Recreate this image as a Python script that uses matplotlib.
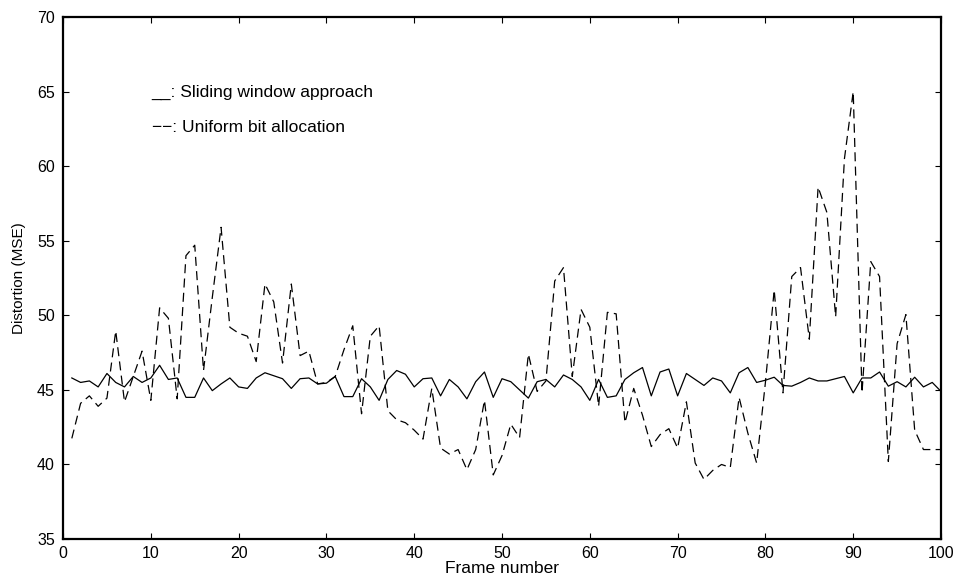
import numpy as np
import matplotlib
matplotlib.use("Agg")
from matplotlib import pyplot as plt

frames = np.arange(1, 101)

sliding = [
    45.8, 45.5, 45.6, 45.2, 46.1, 45.5, 45.2, 45.9, 45.5, 45.8,
    46.65, 45.7, 45.8, 44.5, 44.5, 45.8, 44.95, 45.4, 45.8, 45.2,
    45.1, 45.8, 46.15, 45.95, 45.75, 45.1, 45.75, 45.8, 45.4, 45.45,
    45.9, 44.55, 44.55, 45.75, 45.2, 44.3, 45.7, 46.3, 46.05, 45.2,
    45.75, 45.8, 44.6, 45.7, 45.2, 44.4, 45.55, 46.2, 44.5, 45.75,
    45.55, 45.0, 44.45, 45.55, 45.7, 45.2, 46.0, 45.7, 45.2, 44.3,
    45.7, 44.5, 44.6, 45.7, 46.15, 46.5, 44.6, 46.2, 46.4, 44.6,
    46.1, 45.7, 45.3, 45.8, 45.6, 44.8, 46.15, 46.5, 45.5, 45.65,
    45.85, 45.3, 45.25, 45.5, 45.8, 45.6, 45.6, 45.75, 45.9, 44.8,
    45.8, 45.8, 46.2, 45.25, 45.55, 45.2, 45.85, 45.2, 45.5, 44.9,
]

uniform = [
    41.75, 44.1, 44.6, 43.9, 44.45, 48.95, 44.2, 45.9, 47.6, 44.3,
    50.5, 49.8, 44.4, 54.0, 54.7, 46.3, 51.2, 55.9, 49.2, 48.8,
    48.6, 46.9, 52.1, 50.9, 46.8, 52.1, 47.3, 47.6, 45.4, 45.5,
    45.9, 47.7, 49.3, 43.4, 48.6, 49.3, 43.6, 43.0, 42.8, 42.3,
    41.7, 45.1, 41.1, 40.7, 41.0, 39.65, 41.0, 44.3, 39.3, 40.6,
    42.7, 41.8, 47.4, 44.9, 45.6, 52.3, 53.2, 45.9, 50.4, 49.2,
    43.9, 50.2, 50.1, 42.8, 45.1, 43.3, 41.2, 42.0, 42.4, 41.1,
    44.2, 40.1, 39.0, 39.6, 40.0, 39.8, 44.5, 42.1, 40.1, 45.5,
    51.7, 44.8, 52.6, 53.2, 48.4, 58.6, 56.9, 49.9, 60.5, 65.0,
    44.8, 53.6, 52.6, 40.2, 48.1, 50.05, 42.3, 41.0, 41.0, 41.0,
]

xticks = list(range(0, 101, 10))
yticks = list(range(35, 71, 5))

plt.rcParams['font.family'] = ['Liberation Sans', 'DejaVu Sans']
plt.rcParams['lines.scale_dashes'] = False

fig = plt.figure(figsize=(9.61, 5.79), dpi=100)
ax = fig.add_axes([0.0656, 0.069, 0.9136, 0.9016])

ax.plot(frames, sliding, color="black", linewidth=0.9)
ax.plot(frames, uniform, color="black", linewidth=0.9, linestyle=(0, (6.5, 3.8)))

ax.set_xlim(0, 100)
ax.set_ylim(35, 70)
ax.set_xticks(xticks)
ax.set_yticks(yticks)
ax.tick_params(direction="in", length=4.5, width=0.8, top=True, right=True,
               labelsize=11.5)
ax.tick_params(axis="y", pad=6)
ax.tick_params(axis="x", pad=5)
for s in ax.spines.values():
    s.set_linewidth(1.6)

ax.set_xlabel("Frame number", fontsize=12.5, labelpad=0)
ax.set_ylabel("Distortion (MSE)", fontsize=11, labelpad=8)

# legend written as plain text, like the original
ax.text(10.1, 64.65, "__: Sliding window approach", fontsize=12.5, va="baseline")
ax.text(10.1, 62.3, "\u2212\u2212: Uniform bit allocation", fontsize=12.5, va="baseline")

fig.savefig("out.png", dpi=100)
